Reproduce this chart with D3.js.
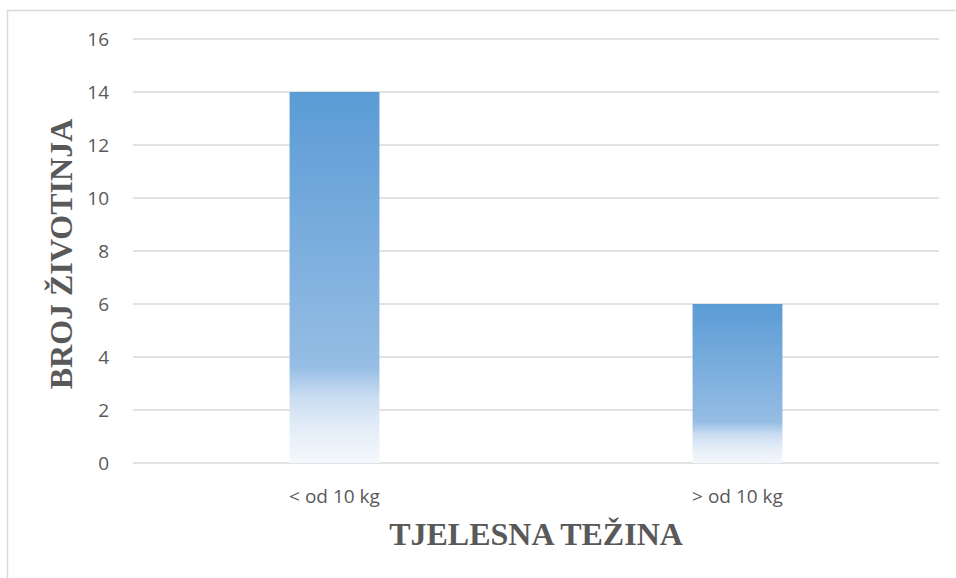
<!DOCTYPE html>
<html>
<head>
<meta charset="utf-8">
<script src="https://cdn.jsdelivr.net/npm/d3@7"></script>
<style>
  body { margin: 0; background: #fff; }
</style>
</head>
<body>
<div id="chart-area"></div>
<script>
var categories = ["< od 10 kg", "> od 10 kg"];
var counts = [14, 6];
var yTicks = [0, 2, 4, 6, 8, 10, 12, 14, 16];

var W = 956, H = 578;
var margin = { left: 133, right: 17, top: 39, bottom: 115 };
var width = W - margin.left - margin.right;
var height = H - margin.top - margin.bottom;

var svg = d3.select("#chart-area")
    .append("svg")
    .attr("width", W)
    .attr("height", H);

// gradient fill for bars
var defs = svg.append("defs");
var grad = defs.append("linearGradient")
    .attr("id", "barGrad")
    .attr("x1", 0).attr("y1", 0).attr("x2", 0).attr("y2", 1);
grad.append("stop").attr("offset", "0%").attr("stop-color", "#5b9bd5");
grad.append("stop").attr("offset", "74%").attr("stop-color", "#95bde4");
grad.append("stop").attr("offset", "82%").attr("stop-color", "#c9dcf1");
grad.append("stop").attr("offset", "90%").attr("stop-color", "#e2ecf7");
grad.append("stop").attr("offset", "100%").attr("stop-color", "#f5f8fc");

// chart border
svg.append("rect")
    .attr("x", 7.5).attr("y", 10.5)
    .attr("width", W + 10).attr("height", H + 10)
    .attr("fill", "none")
    .attr("stroke", "#d9d9d9")
    .attr("stroke-width", 1.5);

var g = svg.append("g")
    .attr("transform", "translate(" + margin.left + ", " + margin.top + ")");

var x = d3.scaleBand().domain(categories).range([0, width])
    .paddingInner(0.777).paddingOuter(0.3885);
var y = d3.scaleLinear().domain([0, 16]).range([height, 0]);

// gridlines
g.selectAll("line.grid").data(yTicks).enter().append("line")
    .attr("class", "grid")
    .attr("x1", 0).attr("x2", width)
    .attr("y1", d => y(d)).attr("y2", d => y(d))
    .attr("stroke", "#d9d9d9")
    .attr("stroke-width", 1.3);

// y tick labels
g.selectAll("text.ytick").data(yTicks).enter().append("text")
    .attr("class", "ytick")
    .attr("x", -24)
    .attr("y", d => y(d))
    .attr("dy", "0.35em")
    .attr("text-anchor", "end")
    .attr("font-family", "'Open Sans', sans-serif")
    .attr("font-size", 19)
    .attr("fill", "#595959")
    .text(d => d);

// bars
g.selectAll("rect.bar").data(counts).enter().append("rect")
    .attr("class", "bar")
    .attr("x", (d, i) => x(categories[i]))
    .attr("y", d => y(d))
    .attr("width", x.bandwidth())
    .attr("height", d => height - y(d))
    .attr("fill", "url(#barGrad)");

// category labels
g.selectAll("text.xtick").data(categories).enter().append("text")
    .attr("class", "xtick")
    .attr("x", d => x(d) + x.bandwidth() / 2)
    .attr("y", height + 40)
    .attr("text-anchor", "middle")
    .attr("font-family", "'Open Sans', sans-serif")
    .attr("font-size", 19)
    .attr("fill", "#595959")
    .text(d => d);

// axis titles
g.append("text")
    .attr("x", width / 2)
    .attr("y", height + 82)
    .attr("text-anchor", "middle")
    .attr("font-family", "'Liberation Serif', 'Times New Roman', serif")
    .attr("font-weight", "bold")
    .attr("font-size", 32)
    .attr("fill", "#595959")
    .text("TJELESNA TEŽINA");

g.append("text")
    .attr("transform", "rotate(-90)")
    .attr("x", -(254 - margin.top))
    .attr("y", 72 - margin.left)
    .attr("text-anchor", "middle")
    .attr("font-family", "'Liberation Serif', 'Times New Roman', serif")
    .attr("font-weight", "bold")
    .attr("font-size", 32)
    .attr("fill", "#595959")
    .text("BROJ ŽIVOTINJA");
</script>
</body>
</html>
